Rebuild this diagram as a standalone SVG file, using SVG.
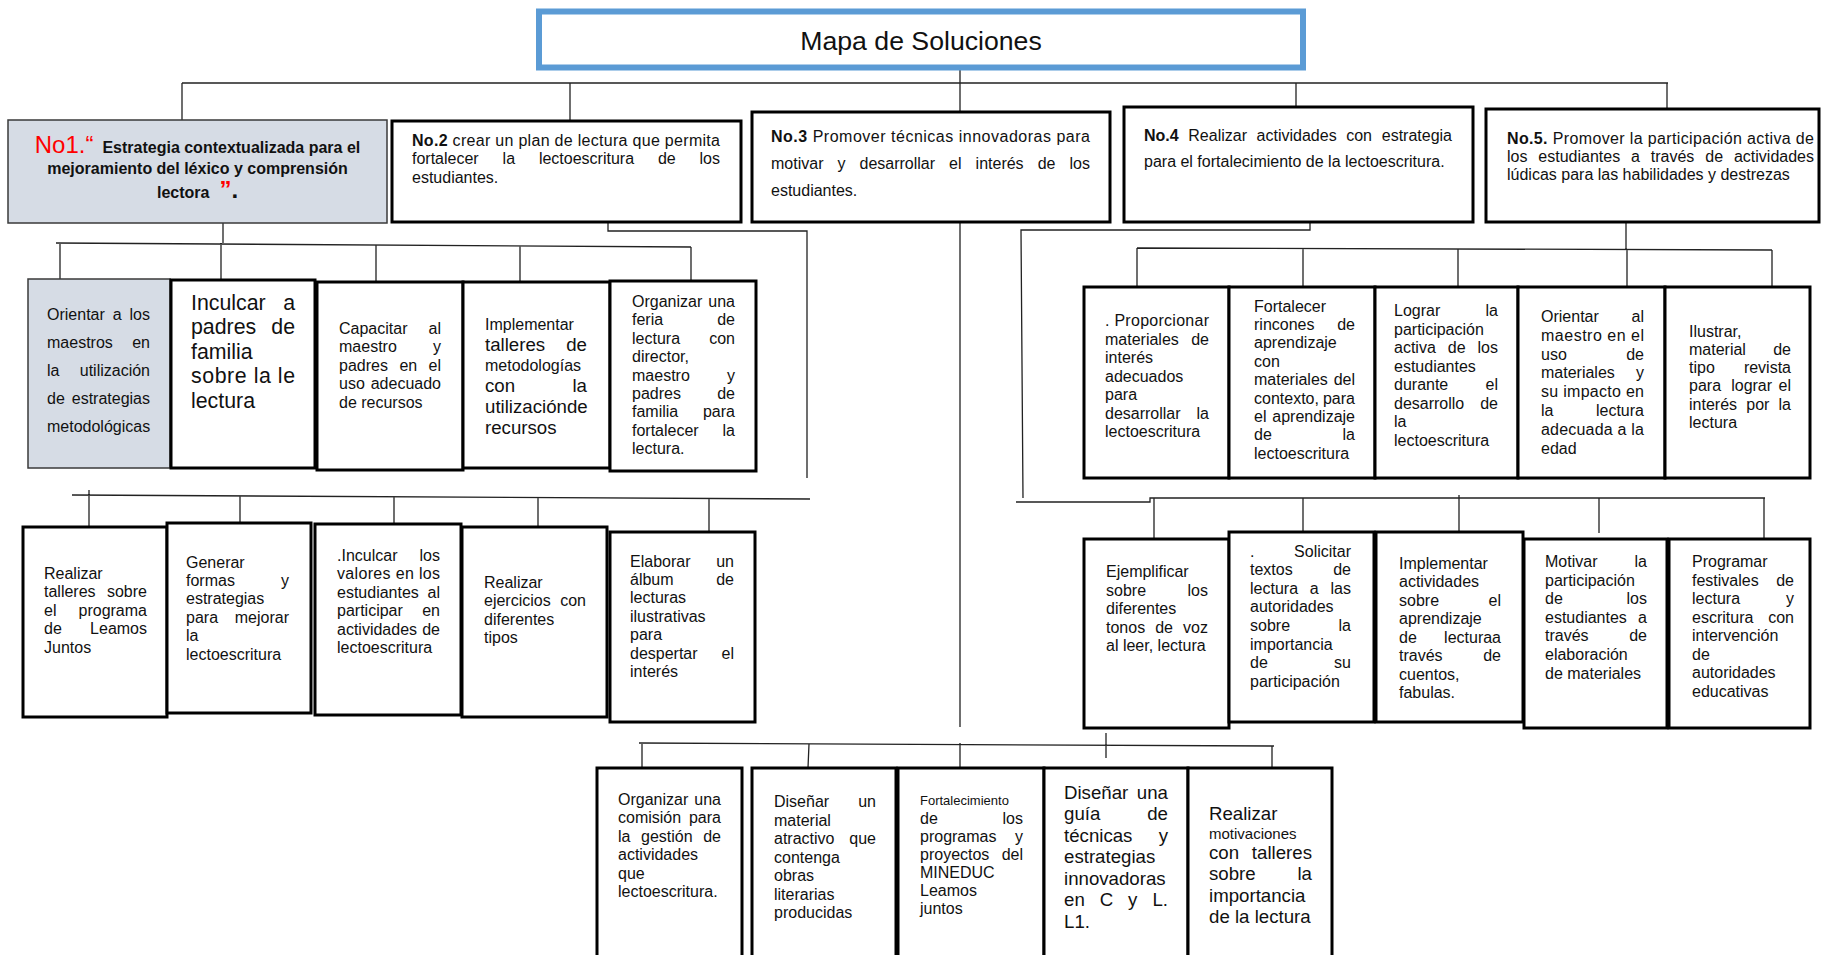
<svg xmlns="http://www.w3.org/2000/svg" width="1821" height="955" viewBox="0 0 1821 955">
<style>
text{font-family:"Liberation Sans",Arial,sans-serif;font-size:16px;fill:#111}
.e{text-anchor:end}
.m{text-anchor:middle}
.L{font-size:18.67px}
.XL{font-size:21.33px}
.nb{font-weight:bold}
.b{fill:#fff;stroke:#000;stroke-width:3}
.g{fill:#D6DCE5;stroke:#3a3a3a;stroke-width:1.5}
.c path{fill:none;stroke:#222;stroke-width:1.3}
</style>
<rect width="1821" height="955" fill="#fff"/>

<g id="connectors" class="c">
<path d="M960 70V83M182 83H1668M182 83V120M570 83V120M960 83V112M1296 83V107M1667 83V109"/>
<path d="M223 223V243M56 243L691 247M60 243V279M221 243V280M376 245V282M520 246V282M691 247V281"/>
<path d="M608 223V231H807V478M72 495L810 499M89 490V527M240 496V523M394 497V524M538 498V527M709 498V532"/>
<path d="M960 223V727M639 743L1274 746M960 743V768M642 743V768M809 744L808 768M1106 733V758M1272 746V768"/>
<path d="M1310 223V230H1021L1023 498M1016 502H1150V498H1765M1154 498V539M1303 498V532M1459 495V532M1599 498V533M1764 498V539"/>
<path d="M1626 223V249M1137 248L1772 250M1137 248V287M1303 249V287M1458 249V287M1627 249V287M1772 250V287"/>
</g>

<g id="title">
<rect x="539" y="11.5" width="764" height="56" fill="#fff" stroke="#5B9BD5" stroke-width="6"/>
<text class="m" x="921" y="50" style="font-size:26.67px">Mapa de Soluciones</text>
</g>

<g id="n1">
<rect class="g" x="8" y="120" width="379" height="103"/>
<text class="m nb" x="197.5" y="153"><tspan fill="#FF0000" style="font-size:24px;font-weight:normal">No1.“</tspan><tspan dx="9">Estrategia contextualizada para el</tspan></text>
<text class="m nb" x="197.5" y="174">mejoramiento del  léxico y comprensión</text>
<text class="nb" x="157" y="198">lectora<tspan dx="10" fill="#FF0000" style="font-size:24px">”</tspan><tspan style="font-size:24px">.</tspan></text>
</g>

<g id="n2">
<rect class="b" x="392" y="121" width="349" height="101"/>
<text x="412" y="146" textLength="308" lengthAdjust="spacing"><tspan class="nb">No.2</tspan> crear un plan de lectura que permita</text>
<text x="412" y="164">fortalecer</text><text x="502.6" y="164">la</text><text x="538.9" y="164">lectoescritura</text><text x="657.9" y="164">de</text><text class="e" x="720" y="164">los</text>
<text x="412" y="183">estudiantes.</text>
</g>

<g id="n3">
<rect class="b" x="752" y="112" width="358" height="110"/>
<text x="771" y="142" textLength="319" lengthAdjust="spacing"><tspan class="nb">No.3</tspan> Promover técnicas innovadoras para</text>
<text x="771" y="169">motivar</text><text x="837.5" y="169">y</text><text x="859.5" y="169">desarrollar</text><text x="949.1" y="169">el</text><text x="975.6" y="169">interés</text><text x="1037.7" y="169">de</text><text class="e" x="1090" y="169">los</text>
<text x="771" y="196">estudiantes.</text>
</g>

<g id="n4">
<rect class="b" x="1124" y="107" width="349" height="115"/>
<text class="nb" x="1144" y="141">No.4</text><text x="1188.3" y="141">Realizar</text><text x="1256.6" y="141">actividades</text><text x="1346.2" y="141">con</text><text class="e" x="1452" y="141">estrategia</text>
<text x="1144" y="167">para el fortalecimiento de la lectoescritura.</text>
</g>

<g id="n5">
<rect class="b" x="1486" y="109" width="333" height="113"/>
<text x="1507" y="144" textLength="307" lengthAdjust="spacing"><tspan class="nb">No.5.</tspan> Promover la participación activa de</text>
<text x="1507" y="162">los</text><text x="1538.3" y="162">estudiantes</text><text x="1631" y="162">a</text><text x="1650.8" y="162">través</text><text x="1705.3" y="162">de</text><text class="e" x="1814" y="162">actividades</text>
<text x="1507" y="180">lúdicas para las habilidades y destrezas</text>
</g>

<g id="a1">
<rect class="g" x="28" y="279" width="142" height="189"/>
<text x="47" y="320">Orientar</text><text x="112.8" y="320">a</text><text class="e" x="150" y="320">los</text>
<text x="47" y="348">maestros</text><text class="e" x="150" y="348">en</text>
<text x="47" y="376">la</text><text class="e" x="150" y="376">utilización</text>
<text x="47" y="404">de</text><text class="e" x="150" y="404">estrategias</text>
<text x="47" y="432">metodológicas</text>
</g>

<g id="a2">
<rect class="b" x="171" y="280" width="144" height="188"/>
<text class="XL" x="191" y="309.5">Inculcar</text><text class="XL e" x="295" y="309.5">a</text>
<text class="XL" x="191" y="334">padres</text><text class="XL e" x="295" y="334">de</text>
<text class="XL" x="191" y="358.5">familia</text>
<text class="XL" x="191" y="383" textLength="104" lengthAdjust="spacing">sobre la le</text>
<text class="XL" x="191" y="407.5">lectura</text>
</g>

<g id="a3">
<rect class="b" x="317" y="282" width="146" height="188"/>
<text x="339" y="333.6">Capacitar</text><text class="e" x="441" y="333.6">al</text>
<text x="339" y="352.2">maestro</text><text class="e" x="441" y="352.2">y</text>
<text x="339" y="370.8">padres</text><text x="399.4" y="370.8">en</text><text class="e" x="441" y="370.8">el</text>
<text x="339" y="389.4">uso</text><text class="e" x="441" y="389.4">adecuado</text>
<text x="339" y="408">de recursos</text>
</g>

<g id="a4">
<rect class="b" x="463" y="282" width="147" height="186"/>
<text x="485" y="330">Implementar</text>
<text class="L" x="485" y="351">talleres</text><text class="L e" x="587" y="351">de</text>
<text x="485" y="371">metodologías</text>
<text class="L" x="485" y="392">con</text><text class="L e" x="587" y="392">la</text>
<text class="L" x="485" y="413">utilizaciónde</text>
<text class="L" x="485" y="434">recursos</text>
</g>

<g id="a5">
<rect class="b" x="610" y="281" width="146" height="190"/>
<text x="632" y="307">Organizar</text><text class="e" x="735" y="307">una</text>
<text x="632" y="325.4">feria</text><text class="e" x="735" y="325.4">de</text>
<text x="632" y="343.8">lectura</text><text class="e" x="735" y="343.8">con</text>
<text x="632" y="362.2">director,</text>
<text x="632" y="380.6">maestro</text><text class="e" x="735" y="380.6">y</text>
<text x="632" y="399">padres</text><text class="e" x="735" y="399">de</text>
<text x="632" y="417.4">familia</text><text class="e" x="735" y="417.4">para</text>
<text x="632" y="435.8">fortalecer</text><text class="e" x="735" y="435.8">la</text>
<text x="632" y="454.2">lectura.</text>
</g>

<g id="b1">
<rect class="b" x="23" y="527" width="144" height="190"/>
<text x="44" y="579">Realizar</text>
<text x="44" y="597.4">talleres</text><text class="e" x="147" y="597.4">sobre</text>
<text x="44" y="615.8">el</text><text class="e" x="147" y="615.8">programa</text>
<text x="44" y="634.2">de</text><text class="e" x="147" y="634.2">Leamos</text>
<text x="44" y="652.6">Juntos</text>
</g>

<g id="b2">
<rect class="b" x="167" y="523" width="144" height="190"/>
<text x="186" y="567.5">Generar</text>
<text x="186" y="585.9">formas</text><text class="e" x="289" y="585.9">y</text>
<text x="186" y="604.3">estrategias</text>
<text x="186" y="622.7">para</text><text class="e" x="289" y="622.7">mejorar</text>
<text x="186" y="641.1">la</text>
<text x="186" y="659.5">lectoescritura</text>
</g>

<g id="b3">
<rect class="b" x="315" y="524" width="146" height="191"/>
<text x="337" y="561">.Inculcar</text><text class="e" x="440" y="561">los</text>
<text x="337" y="579.4" textLength="103" lengthAdjust="spacing">valores en los</text>
<text x="337" y="597.8">estudiantes</text><text class="e" x="440" y="597.8">al</text>
<text x="337" y="616.2">participar</text><text class="e" x="440" y="616.2">en</text>
<text x="337" y="634.6">actividades</text><text class="e" x="440" y="634.6">de</text>
<text x="337" y="653">lectoescritura</text>
</g>

<g id="b4">
<rect class="b" x="462" y="527" width="145" height="190"/>
<text x="484" y="588">Realizar</text>
<text x="484" y="606.4">ejercicios</text><text class="e" x="586" y="606.4">con</text>
<text x="484" y="624.8">diferentes</text>
<text x="484" y="643.2">tipos</text>
</g>

<g id="b5">
<rect class="b" x="610" y="532" width="145" height="190"/>
<text x="630" y="566.5">Elaborar</text><text class="e" x="734" y="566.5">un</text>
<text x="630" y="584.9">álbum</text><text class="e" x="734" y="584.9">de</text>
<text x="630" y="603.3">lecturas</text>
<text x="630" y="621.7">ilustrativas</text>
<text x="630" y="640.1">para</text>
<text x="630" y="658.5">despertar</text><text class="e" x="734" y="658.5">el</text>
<text x="630" y="676.9">interés</text>
</g>

<g id="c1">
<rect class="b" x="1084" y="287" width="145" height="191"/>
<text x="1105" y="326" textLength="104" lengthAdjust="spacing">. Proporcionar</text>
<text x="1105" y="344.5">materiales</text><text class="e" x="1209" y="344.5">de</text>
<text x="1105" y="363">interés</text>
<text x="1105" y="381.5">adecuados</text>
<text x="1105" y="400">para</text>
<text x="1105" y="418.5">desarrollar</text><text class="e" x="1209" y="418.5">la</text>
<text x="1105" y="437">lectoescritura</text>
</g>

<g id="c2">
<rect class="b" x="1229" y="287" width="146" height="191"/>
<text x="1254" y="311.5">Fortalecer</text>
<text x="1254" y="329.9">rincones</text><text class="e" x="1355" y="329.9">de</text>
<text x="1254" y="348.3">aprendizaje</text>
<text x="1254" y="366.7">con</text>
<text x="1254" y="385.1">materiales</text><text class="e" x="1355" y="385.1">del</text>
<text x="1254" y="403.5">contexto,</text><text class="e" x="1355" y="403.5">para</text>
<text x="1254" y="421.9">el</text><text class="e" x="1355" y="421.9">aprendizaje</text>
<text x="1254" y="440.3">de</text><text class="e" x="1355" y="440.3">la</text>
<text x="1254" y="458.7">lectoescritura</text>
</g>

<g id="c3">
<rect class="b" x="1375" y="287" width="143" height="191"/>
<text x="1394" y="316">Lograr</text><text class="e" x="1498" y="316">la</text>
<text x="1394" y="334.5">participación</text>
<text x="1394" y="353">activa</text><text x="1447.8" y="353">de</text><text class="e" x="1498" y="353">los</text>
<text x="1394" y="371.5">estudiantes</text>
<text x="1394" y="390">durante</text><text class="e" x="1498" y="390">el</text>
<text x="1394" y="408.5">desarrollo</text><text class="e" x="1498" y="408.5">de</text>
<text x="1394" y="427">la</text>
<text x="1394" y="445.5">lectoescritura</text>
</g>

<g id="c4">
<rect class="b" x="1518" y="287" width="147" height="191"/>
<text x="1541" y="322">Orientar</text><text class="e" x="1644" y="322">al</text>
<text x="1541" y="340.8" textLength="103" lengthAdjust="spacing">maestro en el</text>
<text x="1541" y="359.6">uso</text><text class="e" x="1644" y="359.6">de</text>
<text x="1541" y="378.4">materiales</text><text class="e" x="1644" y="378.4">y</text>
<text x="1541" y="397.2" textLength="103" lengthAdjust="spacing">su impacto en</text>
<text x="1541" y="416">la</text><text class="e" x="1644" y="416">lectura</text>
<text x="1541" y="434.8" textLength="103" lengthAdjust="spacing">adecuada a la</text>
<text x="1541" y="453.6">edad</text>
</g>

<g id="c5">
<rect class="b" x="1665" y="287" width="145" height="191"/>
<text x="1689" y="336.5">Ilustrar,</text>
<text x="1689" y="354.8">material</text><text class="e" x="1791" y="354.8">de</text>
<text x="1689" y="373.1">tipo</text><text class="e" x="1791" y="373.1">revista</text>
<text x="1689" y="391.4">para</text><text x="1731.2" y="391.4">lograr</text><text class="e" x="1791" y="391.4">el</text>
<text x="1689" y="409.7">interés</text><text x="1746.3" y="409.7">por</text><text class="e" x="1791" y="409.7">la</text>
<text x="1689" y="428">lectura</text>
</g>

<g id="d1">
<rect class="b" x="1084" y="539" width="145" height="189"/>
<text x="1106" y="577">Ejemplificar</text>
<text x="1106" y="595.5">sobre</text><text class="e" x="1208" y="595.5">los</text>
<text x="1106" y="614">diferentes</text>
<text x="1106" y="632.5">tonos</text><text x="1155.2" y="632.5">de</text><text class="e" x="1208" y="632.5">voz</text>
<text x="1106" y="651">al leer, lectura</text>
</g>

<g id="d2">
<rect class="b" x="1229" y="532" width="145" height="190"/>
<text x="1250" y="556.5">.</text><text class="e" x="1351" y="556.5">Solicitar</text>
<text x="1250" y="575.1">textos</text><text class="e" x="1351" y="575.1">de</text>
<text x="1250" y="593.7">lectura</text><text x="1309.8" y="593.7">a</text><text class="e" x="1351" y="593.7">las</text>
<text x="1250" y="612.3">autoridades</text>
<text x="1250" y="630.9">sobre</text><text class="e" x="1351" y="630.9">la</text>
<text x="1250" y="649.5">importancia</text>
<text x="1250" y="668.1">de</text><text class="e" x="1351" y="668.1">su</text>
<text x="1250" y="686.7">participación</text>
</g>

<g id="d3">
<rect class="b" x="1376" y="532" width="147" height="190"/>
<text x="1399" y="568.6">Implementar</text>
<text x="1399" y="587.1">actividades</text>
<text x="1399" y="605.6">sobre</text><text class="e" x="1501" y="605.6">el</text>
<text x="1399" y="624.1">aprendizaje</text>
<text x="1399" y="642.6">de</text><text class="e" x="1501" y="642.6">lecturaa</text>
<text x="1399" y="661.1">través</text><text class="e" x="1501" y="661.1">de</text>
<text x="1399" y="679.6">cuentos,</text>
<text x="1399" y="698.1">fabulas.</text>
</g>

<g id="d4">
<rect class="b" x="1524" y="539" width="143" height="189"/>
<text x="1545" y="567">Motivar</text><text class="e" x="1647" y="567">la</text>
<text x="1545" y="585.6">participación</text>
<text x="1545" y="604.2">de</text><text class="e" x="1647" y="604.2">los</text>
<text x="1545" y="622.8">estudiantes</text><text class="e" x="1647" y="622.8">a</text>
<text x="1545" y="641.4">través</text><text class="e" x="1647" y="641.4">de</text>
<text x="1545" y="660">elaboración</text>
<text x="1545" y="678.6">de materiales</text>
</g>

<g id="d5">
<rect class="b" x="1669" y="539" width="141" height="189"/>
<text x="1692" y="567">Programar</text>
<text x="1692" y="585.5">festivales</text><text class="e" x="1794" y="585.5">de</text>
<text x="1692" y="604">lectura</text><text class="e" x="1794" y="604">y</text>
<text x="1692" y="622.5">escritura</text><text class="e" x="1794" y="622.5">con</text>
<text x="1692" y="641">intervención</text>
<text x="1692" y="659.5">de</text>
<text x="1692" y="678">autoridades</text>
<text x="1692" y="696.5">educativas</text>
</g>

<g id="e1">
<rect class="b" x="597" y="768" width="145" height="200"/>
<text x="618" y="805">Organizar</text><text class="e" x="721" y="805">una</text>
<text x="618" y="823.4">comisión</text><text class="e" x="721" y="823.4">para</text>
<text x="618" y="841.8">la</text><text x="641" y="841.8">gestión</text><text class="e" x="721" y="841.8">de</text>
<text x="618" y="860.2">actividades</text>
<text x="618" y="878.6">que</text>
<text x="618" y="897">lectoescritura.</text>
</g>

<g id="e2">
<rect class="b" x="752" y="768" width="144" height="200"/>
<text x="774" y="807.2">Diseñar</text><text class="e" x="876" y="807.2">un</text>
<text x="774" y="825.7">material</text>
<text x="774" y="844.2">atractivo</text><text class="e" x="876" y="844.2">que</text>
<text x="774" y="862.7">contenga</text>
<text x="774" y="881.2">obras</text>
<text x="774" y="899.7">literarias</text>
<text x="774" y="918.2">producidas</text>
</g>

<g id="e3">
<rect class="b" x="898" y="768" width="146" height="200"/>
<text x="920" y="805" style="font-size:13px">Fortalecimiento</text>
<text x="920" y="823.5">de</text><text class="e" x="1023" y="823.5">los</text>
<text x="920" y="841.5">programas</text><text class="e" x="1023" y="841.5">y</text>
<text x="920" y="859.5">proyectos</text><text class="e" x="1023" y="859.5">del</text>
<text x="920" y="877.5">MINEDUC</text>
<text x="920" y="895.5">Leamos</text>
<text x="920" y="913.5">juntos</text>
</g>

<g id="e4">
<rect class="b" x="1044" y="768" width="144" height="200"/>
<text class="L" x="1064" y="798.5">Diseñar</text><text class="L e" x="1168" y="798.5">una</text>
<text class="L" x="1064" y="820">guía</text><text class="L e" x="1168" y="820">de</text>
<text class="L" x="1064" y="841.5">técnicas</text><text class="L e" x="1168" y="841.5">y</text>
<text class="L" x="1064" y="863">estrategias</text>
<text class="L" x="1064" y="884.5">innovadoras</text>
<text class="L" x="1064" y="906">en</text><text class="L" x="1099.7" y="906">C</text><text class="L" x="1128.1" y="906">y</text><text class="L e" x="1168" y="906">L.</text>
<text class="L" x="1064" y="927.5">L1.</text>
</g>

<g id="e5">
<rect class="b" x="1188" y="768" width="144" height="200"/>
<text class="L" x="1209" y="819.5">Realizar</text>
<text x="1209" y="838.5" style="font-size:15px">motivaciones</text>
<text class="L" x="1209" y="859">con</text><text class="L e" x="1312" y="859">talleres</text>
<text class="L" x="1209" y="879.5">sobre</text><text class="L e" x="1312" y="879.5">la</text>
<text class="L" x="1209" y="902">importancia</text>
<text class="L" x="1209" y="922.5">de la lectura</text>
</g>
</svg>
